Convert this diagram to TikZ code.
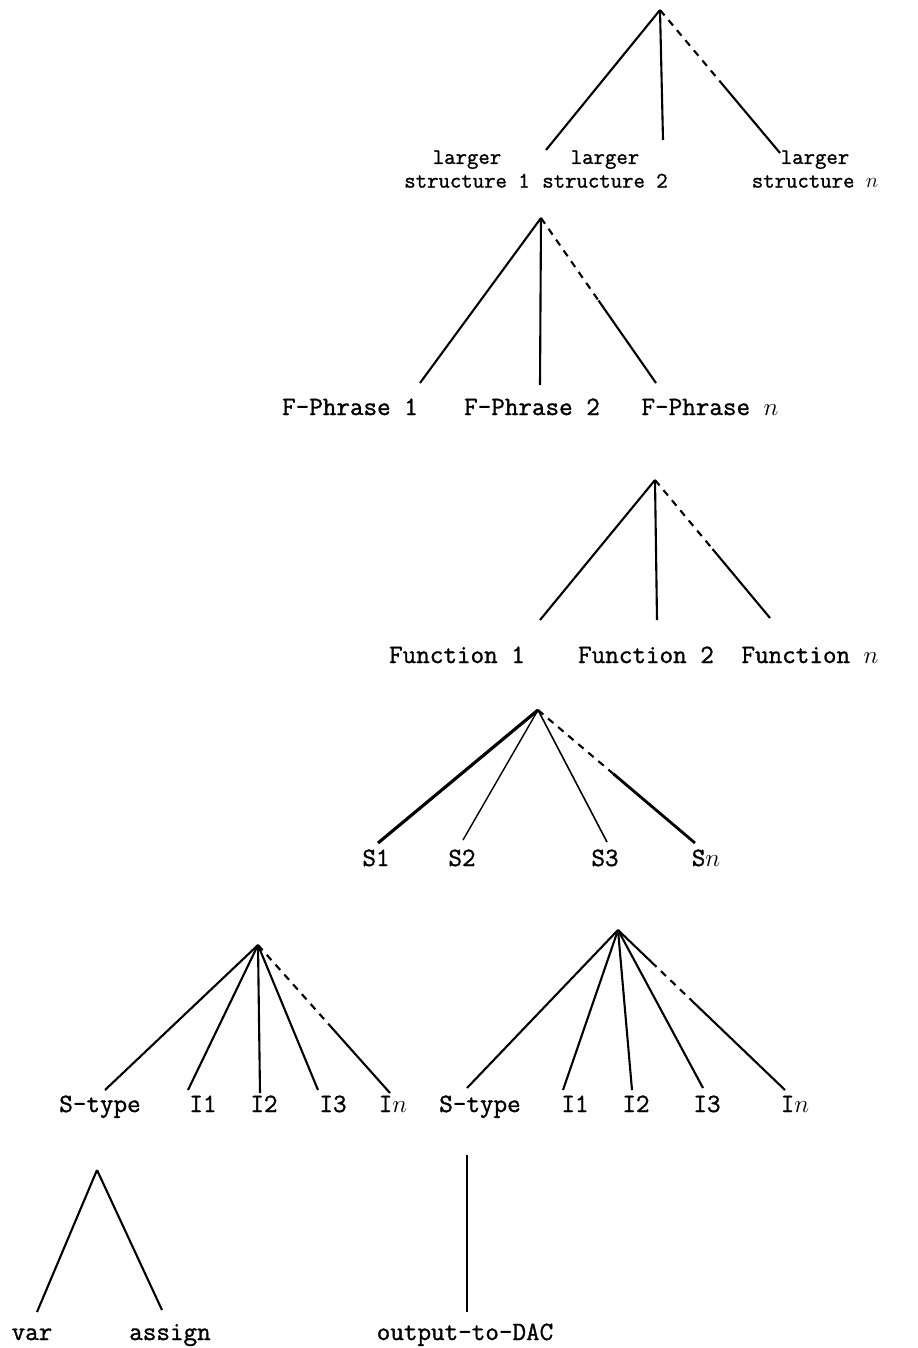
\documentclass[tikz,border=0pt]{standalone}
\usepackage{fontspec}
\newfontfamily\typer{Latin Modern Mono}[FakeBold=1.2]
\usetikzlibrary{positioning, calc}

\begin{document}
\begin{tikzpicture}[
    x=0.02cm, y=-0.02cm,
    leaf/.style={font=\typer\fontsize{15}{17}\selectfont, anchor=base, inner sep=0pt},
    twoleaf/.style={font=\typer\fontsize{12.6}{13.5}\selectfont, anchor=north, align=center, inner sep=0pt},
    branch/.style={line width=1.2pt},
    gap/.style={line width=1.2pt, dash pattern=on 4pt off 3.5pt}
]
\useasboundingbox (0,0) rectangle (917,1348);

% Δέντρο 1: larger structures
\coordinate (ra) at (660,10);
\coordinate (ea1) at (546,150);
\coordinate (ea2) at (663,140);
\coordinate (ean) at (780,153);
\node[twoleaf] (ls1) at (467,150) {larger\\structure 1};
\node[twoleaf] (ls2) at (605,150) {larger\\structure 2};
\node[twoleaf] (lsn) at (815,150) {larger\\structure $n$};
\coordinate (ma) at ($(ra)!0.5!(ean)$);
\draw[branch] (ra) -- (ea1);
\draw[branch] (ra) -- (ea2);
\draw[gap] (ra) -- (ma);
\draw[branch] (ma) -- (ean);

% Δέντρο 2: F-Phrases
\coordinate (rb) at (541,218);
\coordinate (eb1) at (420,383);
\coordinate (eb2) at (540,385);
\coordinate (ebn) at (656,383);
\node[leaf] (fp1) at (350,415) {F-Phrase 1};
\node[leaf] (fp2) at (532,415) {F-Phrase 2};
\node[leaf] (fpn) at (710,415) {F-Phrase $n$};
\coordinate (mb) at ($(rb)!0.5!(ebn)$);
\draw[branch] (rb) -- (eb1);
\draw[branch] (rb) -- (eb2);
\draw[gap] (rb) -- (mb);
\draw[branch] (mb) -- (ebn);

% Δέντρο 3: Functions
\coordinate (rc) at (655,480);
\coordinate (ec1) at (540,620);
\coordinate (ec2) at (657,620);
\coordinate (ecn) at (770,618);
\node[leaf] (fn1) at (457,663) {Function 1};
\node[leaf] (fn2) at (646,663) {Function 2};
\node[leaf] (fnn) at (810,663) {Function $n$};
\coordinate (mc) at ($(rc)!0.5!(ecn)$);
\draw[branch] (rc) -- (ec1);
\draw[branch] (rc) -- (ec2);
\draw[gap] (rc) -- (mc);
\draw[branch] (mc) -- (ecn);

% Δέντρο 4: S1 ... Sn
\coordinate (rd) at (538,710);
\coordinate (ed1) at (378,843);
\coordinate (ed2) at (463,840);
\coordinate (ed3) at (607,842);
\coordinate (edn) at (695,843);
\node[leaf] (s1) at (376,866) {S1};
\node[leaf] (s2) at (462,866) {S2};
\node[leaf] (s3) at (605,866) {S3};
\node[leaf] (sn) at (706,866) {S$n$};
\coordinate (md) at ($(rd)!0.48!(edn)$);
\draw[branch, line width=1.8pt] (rd) -- (ed1);
\draw[branch, line width=0.8pt] (rd) -- (ed2);
\draw[branch, line width=0.9pt] (rd) -- (ed3);
\draw[gap] (rd) -- (md);
\draw[branch, line width=1.6pt] (md) -- (edn);

% Δέντρο 5: S-type, I1 ... In (αριστερά)
\coordinate (re) at (258,945);
\coordinate (ee0) at (105,1090);
\coordinate (ee1) at (188,1090);
\coordinate (ee2) at (260,1093);
\coordinate (ee3) at (318,1090);
\coordinate (een) at (390,1093);
\node[leaf] (st1) at (100,1112) {S-type};
\node[leaf] (ia1) at (203,1112) {I1};
\node[leaf] (ia2) at (264,1112) {I2};
\node[leaf] (ia3) at (333,1112) {I3};
\node[leaf] (ian) at (393,1112) {I$n$};
\coordinate (me) at ($(re)!0.55!(een)$);
\draw[branch] (re) -- (ee0);
\draw[branch] (re) -- (ee1);
\draw[branch] (re) -- (ee2);
\draw[branch] (re) -- (ee3);
\draw[gap] (re) -- (me);
\draw[branch] (me) -- (een);

% Δέντρο 6: S-type, I1 ... In (δεξιά)
\coordinate (rf) at (618,930);
\coordinate (ef0) at (467,1088);
\coordinate (ef1) at (563,1090);
\coordinate (ef2) at (632,1090);
\coordinate (ef3) at (703,1088);
\coordinate (efn) at (785,1090);
\node[leaf] (st2) at (480,1112) {S-type};
\node[leaf] (ib1) at (575,1112) {I1};
\node[leaf] (ib2) at (636,1112) {I2};
\node[leaf] (ib3) at (707,1112) {I3};
\node[leaf] (ibn) at (795,1112) {I$n$};
\coordinate (mf1) at ($(rf)!0.2!(efn)$);
\coordinate (mf2) at ($(rf)!0.45!(efn)$);
\draw[branch] (rf) -- (ef0);
\draw[branch] (rf) -- (ef1);
\draw[branch] (rf) -- (ef2);
\draw[branch] (rf) -- (ef3);
\draw[branch] (rf) -- (mf1);
\draw[gap] (mf1) -- (mf2);
\draw[branch] (mf2) -- (efn);

% Δέντρο 7: var / assign
\coordinate (rg) at (97,1170);
\coordinate (eg1) at (37,1312);
\coordinate (eg2) at (162,1310);
\node[leaf] (var) at (32,1340) {var};
\node[leaf] (asg) at (170,1340) {assign};
\draw[branch] (rg) -- (eg1);
\draw[branch] (rg) -- (eg2);

% Δέντρο 8: output-to-DAC
\coordinate (rh) at (467,1155);
\coordinate (eh) at (467,1312);
\node[leaf] (dac) at (465,1340) {output-to-DAC};
\draw[branch] (rh) -- (eh);

\end{tikzpicture}
\end{document}
